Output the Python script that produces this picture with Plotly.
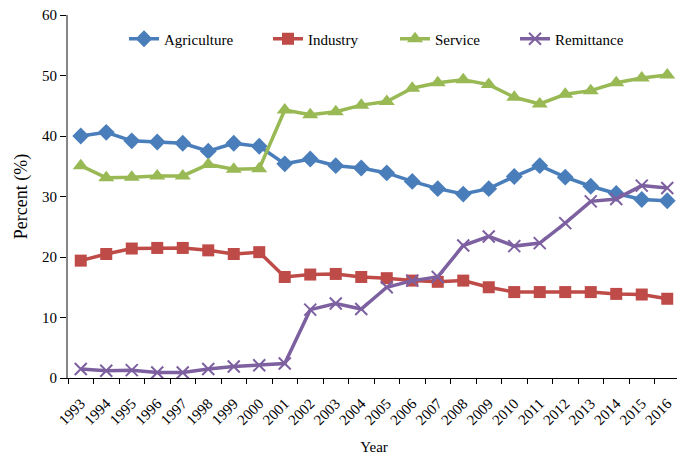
import plotly.graph_objects as go

years = [str(y) for y in range(1993, 2017)]

agriculture = [40.0, 40.6, 39.2, 39.0, 38.8, 37.5, 38.8, 38.3, 35.4, 36.2, 35.1, 34.7,
               33.9, 32.5, 31.3, 30.4, 31.3, 33.3, 35.1, 33.2, 31.7, 30.5, 29.5, 29.3]
industry = [19.4, 20.5, 21.4, 21.5, 21.5, 21.1, 20.5, 20.8, 16.7, 17.1, 17.2, 16.7,
            16.5, 16.1, 15.9, 16.1, 15.0, 14.2, 14.2, 14.2, 14.2, 13.9, 13.8, 13.1]
service = [35.1, 33.1, 33.2, 33.4, 33.4, 35.3, 34.5, 34.6, 44.3, 43.5, 44.0, 45.1,
           45.7, 47.9, 48.8, 49.3, 48.5, 46.4, 45.3, 46.9, 47.5, 48.8, 49.6, 50.1]
remittance = [1.5, 1.2, 1.3, 0.9, 0.9, 1.5, 1.9, 2.1, 2.4, 11.3, 12.3, 11.4,
              15.0, 16.1, 16.7, 21.9, 23.4, 21.8, 22.3, 25.6, 29.2, 29.6, 31.8, 31.4]

font_family = "Liberation Serif, Times New Roman, serif"

# page has an 8px body margin, so the figure is drawn 8px in from the corner
W, H = 677, 449
# plot area in figure pixels
PL, PR, PT, PB = 60, 672, 7, 370

# name, values, colour, symbol, size, legend left edge (figure px)
series = [
    ("Agriculture", agriculture, "#4A7EBB", "diamond", 13, 116),
    ("Industry", industry, "#BE4B48", "square", 12, 260),
    ("Service", service, "#98B954", "triangle-up", 14, 387),
    ("Remittance", remittance, "#7D60A0", "x-thin", 12, 507),
]

fig = go.Figure()
legends = {}
for i, (name, vals, color, symbol, size, lx) in enumerate(series):
    key = "legend" if i == 0 else f"legend{i + 1}"
    marker = dict(symbol=symbol, size=size, color=color)
    if symbol == "x-thin":
        marker["line"] = dict(color=color, width=2)
    fig.add_trace(go.Scatter(
        x=years, y=vals, name=name, mode="lines+markers",
        line=dict(color=color, width=3.5),
        marker=marker, legend=key,
    ))
    legends[key] = dict(
        xref="paper", yref="paper",
        x=(lx - PL) / (PR - PL), y=(PB - 31) / (PB - PT),
        xanchor="left", yanchor="middle",
        font=dict(size=15, family=font_family), bgcolor="rgba(0,0,0,0)",
        itemwidth=30,
    )

fig.update_layout(
    width=W, height=H,
    margin=dict(l=PL, r=W - PR, t=PT, b=H - PB, autoexpand=False),
    plot_bgcolor="white", paper_bgcolor="white",
    font=dict(family=font_family, size=15, color="black"),
    showlegend=True,
    xaxis=dict(
        type="category", range=[-0.5, len(years) - 0.5],
        tickson="boundaries", ticks="outside", ticklen=5,
        tickcolor="black", showline=True, linecolor="black", linewidth=1,
        tickangle=-45, showgrid=False, tickfont=dict(size=15), automargin=False,
        ticklabelstandoff=10, ticklabeloverflow="allow",
        title=dict(text="Year", font=dict(size=15), standoff=14),
    ),
    yaxis=dict(
        range=[0, 60], dtick=10, ticks="outside", ticklen=6, tickcolor="black",
        showline=True, linecolor="#868686", linewidth=2, showgrid=False,
        zeroline=False, tickfont=dict(size=15), automargin=False,
        ticklabeloverflow="allow",
        title=dict(text="Percent (%)", font=dict(size=18), standoff=10),
    ),
    **legends,
)

fig.write_html("out.html")
